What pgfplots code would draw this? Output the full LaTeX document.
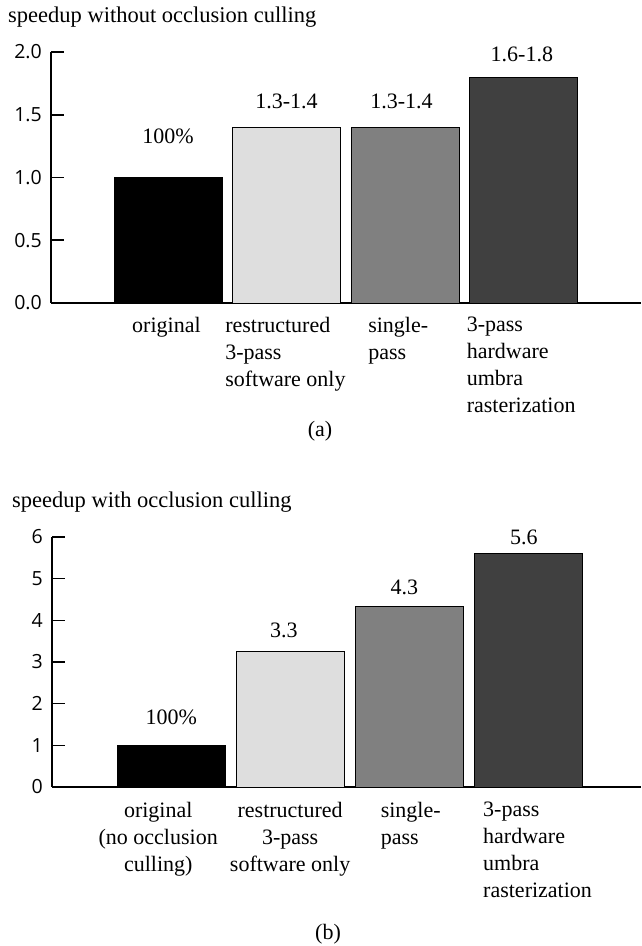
\documentclass[border=0pt]{standalone}
\usepackage{fontspec}
\setmainfont{Liberation Serif}
\newfontfamily\tickfont{Open Sans}
\usepackage{pgfplots}
\pgfplotsset{compat=1.18}
\definecolor{barA}{HTML}{000000}
\definecolor{barB}{HTML}{DEDEDE}
\definecolor{barC}{HTML}{808080}
\definecolor{barD}{HTML}{404040}
\pgfplotsset{
  speedup/.style={
    scale only axis,
    axis x line=bottom, axis y line=left,
    axis line style={-, line width=1.6pt, black},
    xtick=\empty,
    ytick align=inside,
    major tick length=13pt,
    every tick/.style={line width=1.6pt, black},
    ybar, bar width=0.91, bar shift=0pt,
    enlargelimits=false,
    clip=false,
    /pgf/number format/assume math mode=true,
    yticklabel style={font=\tickfont\fontsize{19.5}{19.5}\selectfont, inner sep=0pt, xshift=-9pt},
  },
  barstyle/.style={draw=black, line width=0.7pt},
}
\tikzset{
  val/.style={anchor=base, inner sep=0pt},
  cat/.style={inner sep=0pt},
  ttl/.style={anchor=base west, inner sep=0pt, font=\fontsize{22.5}{27}\selectfont},
}
\begin{document}
\fontsize{22}{27}\selectfont
\begin{tikzpicture}
\useasboundingbox (0,0) rectangle (642pt,946pt);
% ---------- (a) ----------
\node[ttl] at (8pt,923.3pt) {speedup without occlusion culling};
\begin{axis}[speedup,
  at={(51pt,643pt)}, anchor=south west,
  width=590pt, height=251pt,
  xmin=-0.987, xmax=3.99, ymin=0, ymax=2,
  ytick={0,0.5,1,1.5,2},
  yticklabel style={/pgf/number format/.cd, fixed, fixed zerofill, precision=1},
]
\addplot[barstyle, fill=barA] coordinates {(0,1.0)};
\addplot[barstyle, fill=barB] coordinates {(1,1.4)};
\addplot[barstyle, fill=barC] coordinates {(2,1.4)};
\addplot[barstyle, fill=barD] coordinates {(3,1.8)};
\node[val] at (axis cs:0,1.267) {100\%};
\node[val] at (axis cs:1,1.546) {1.3-1.4};
\node[val] at (axis cs:1.97,1.546) {1.3-1.4};
\node[val] at (axis cs:2.985,1.928) {1.6-1.8};
\node[cat, anchor=north west, align=left, xshift=-36pt, yshift=-14pt] at (axis cs:0,0) {original};
\node[cat, anchor=north west, align=left, xshift=-61.5pt, yshift=-14pt] at (axis cs:1,0) {restructured\\3-pass\\software only};
\node[cat, anchor=north west, align=left, xshift=-37pt, yshift=-14pt] at (axis cs:2,0) {single-\\pass};
\node[cat, anchor=north west, align=left, xshift=-57pt, yshift=-14pt] at (axis cs:3,0) {3-pass\\hardware\\umbra\\rasterization};
\end{axis}
\node[anchor=base, inner sep=0pt] at (320pt,509pt) {(a)};
% ---------- (b) ----------
\node[ttl] at (12pt,438pt) {speedup with occlusion culling};
\begin{axis}[speedup,
  at={(52pt,159pt)}, anchor=south west,
  width=589pt, height=250pt,
  xmin=-1.0025, xmax=3.95, ymin=0, ymax=6,
  ytick={0,1,2,3,4,5,6},
]
\addplot[barstyle, fill=barA] coordinates {(0,1.0)};
\addplot[barstyle, fill=barB] coordinates {(1,3.26)};
\addplot[barstyle, fill=barC] coordinates {(2,4.33)};
\addplot[barstyle, fill=barD] coordinates {(3,5.6)};
\node[val] at (axis cs:0,1.49) {100\%};
\node[val] at (axis cs:0.948,3.6) {3.3};
\node[val] at (axis cs:1.96,4.63) {4.3};
\node[val] at (axis cs:2.965,5.81) {5.6};
\node[cat, anchor=north, align=center, xshift=-13pt, yshift=-15pt] at (axis cs:0,0) {original\\(no occlusion\\culling)};
\node[cat, anchor=north, align=center, yshift=-15pt] at (axis cs:1,0) {restructured\\3-pass\\software only};
\node[cat, anchor=north west, align=left, xshift=-28.5pt, yshift=-15pt] at (axis cs:2,0) {single-\\pass};
\node[cat, anchor=north west, align=left, xshift=-45pt, yshift=-15pt] at (axis cs:3,0) {3-pass\\hardware\\umbra\\rasterization};
\end{axis}
\node[anchor=base, inner sep=0pt] at (328pt,6pt) {(b)};
\end{tikzpicture}
\end{document}
